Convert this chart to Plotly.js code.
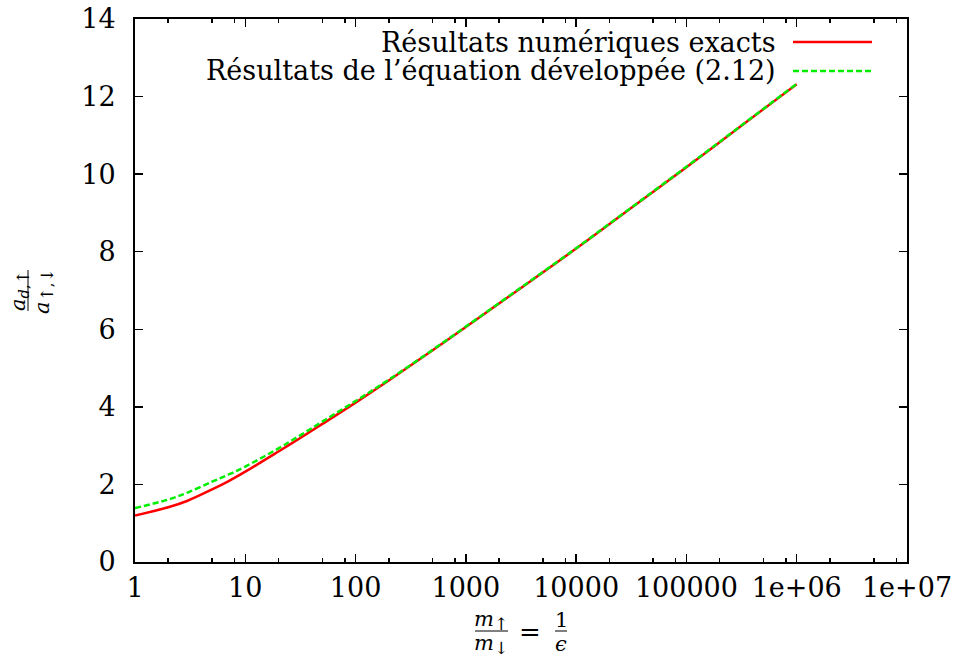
<!DOCTYPE html>
<html>
<head>
<meta charset="utf-8">
<script src="https://cdn.plot.ly/plotly-3.0.1.min.js"></script>
<style>html,body{margin:0;padding:0;background:#fff;}</style>
</head>
<body>
<div id="chart" style="width:959px;height:659px;"></div>
<script>
// Data
const ratio = [1, 2, 3, 5, 7, 10, 20, 30, 50, 100, 200, 500, 1000, 3000, 10000, 30000, 100000, 300000, 1000000];
const exactVals = [1.20, 1.41, 1.58, 1.87, 2.08, 2.33, 2.85, 3.16, 3.56, 4.11, 4.68, 5.46, 6.06, 7.02, 8.08, 9.08, 10.18, 11.20, 12.32];
const expandedVals = [1.39, 1.61, 1.79, 2.07, 2.25, 2.46, 2.93, 3.23, 3.62, 4.15, 4.70, 5.47, 6.07, 7.03, 8.09, 9.09, 10.19, 11.21, 12.33];
const seriesNames = ["Résultats numériques exacts", "Résultats de l’équation développée (2.12)"];
const xTickVals = [1, 10, 100, 1000, 10000, 100000, 1000000, 10000000];
const xTickText = ["1", "10", "100", "1000", "10000", "100000", "1e+06", "1e+07"];
const xMinorVals = [2,5,8,20,50,80,200,500,800,2000,5000,8000,20000,50000,80000,200000,500000,800000,2000000,5000000,8000000];
const yTickVals = [0, 2, 4, 6, 8, 10, 12, 14];

// layout geometry (pixels)
const W = 959, H = 659, L = 135, R = 907, T = 19, B = 562;
const px = v => (v - L) / (R - L);
const py = v => (B - v) / (B - T);

const FONT = "DejaVu Serif";

const traces = [
  {x: ratio, y: exactVals, type: "scatter", mode: "lines", name: seriesNames[0],
   line: {color: "#ff0000", width: 2.5, shape: "spline", smoothing: 1}},
  {x: ratio, y: expandedVals, type: "scatter", mode: "lines", name: seriesNames[1],
   line: {color: "#00ee00", width: 2.5, dash: "6px,3px", shape: "spline", smoothing: 1}},
  {x: [], y: [], xaxis: "x2", type: "scatter", mode: "lines", showlegend: false, hoverinfo: "skip"}
];

const axisCommon = {
  showline: true, linecolor: "#000", linewidth: 2, mirror: "ticks",
  ticks: "inside", ticklen: 8, tickwidth: 1.5, tickcolor: "#000",
  showgrid: false, zeroline: false,
  tickfont: {family: FONT, size: 27, color: "#000"}
};

const annFont = {family: FONT, size: 21, color: "#000"};
const legFont = {family: FONT, size: 27, color: "#000"};
const up = '<span style="font-size:17px">↑</span>';
const down = '<span style="font-size:17px">↓</span>';
const annotations = [
  // legend labels
  {text: seriesNames[0], x: px(778), y: py(42), xref: "paper", yref: "paper", xanchor: "right", yanchor: "middle", showarrow: false, font: legFont},
  {text: seriesNames[1], x: px(778), y: py(70), xref: "paper", yref: "paper", xanchor: "right", yanchor: "middle", showarrow: false, font: legFont},
  // y title fraction
  {text: "<i>a</i><sub><i>d</i>," + up + "</sub>", x: px(19), y: py(291), xref: "paper", yref: "paper", xanchor: "center", yanchor: "middle", textangle: -90, showarrow: false, font: annFont},
  {text: "<i>a</i><sub>" + up + "," + down + "</sub>", x: px(43), y: py(291), xref: "paper", yref: "paper", xanchor: "center", yanchor: "middle", textangle: -90, showarrow: false, font: annFont},
  // x title fraction
  {text: "<i>m</i><sub>" + up + "</sub>", x: px(491), y: py(620), xref: "paper", yref: "paper", xanchor: "center", yanchor: "middle", showarrow: false, font: annFont},
  {text: "<i>m</i><sub>" + down + "</sub>", x: px(491), y: py(644), xref: "paper", yref: "paper", xanchor: "center", yanchor: "middle", showarrow: false, font: annFont},
  {text: "=", x: px(530), y: py(632), xref: "paper", yref: "paper", xanchor: "center", yanchor: "middle", showarrow: false, font: {family: FONT, size: 26, color: "#000"}},
  {text: "1", x: px(561), y: py(620), xref: "paper", yref: "paper", xanchor: "center", yanchor: "middle", showarrow: false, font: annFont},
  {text: "<i>ϵ</i>", x: px(561), y: py(644), xref: "paper", yref: "paper", xanchor: "center", yanchor: "middle", showarrow: false, font: annFont}
];

const shapes = [
  {type: "line", xref: "paper", yref: "paper", x0: px(793), x1: px(872), y0: py(42), y1: py(42), line: {color: "#ff0000", width: 2.5}},
  {type: "line", xref: "paper", yref: "paper", x0: px(793), x1: px(872), y0: py(71), y1: py(71), line: {color: "#00ee00", width: 2.5, dash: "6px,3px"}},
  {type: "line", xref: "paper", yref: "paper", x0: px(28), x1: px(28), y0: py(270), y1: py(311), line: {color: "#000", width: 1}},
  {type: "line", xref: "paper", yref: "paper", x0: px(475), x1: px(508), y0: py(631), y1: py(631), line: {color: "#000", width: 1}},
  {type: "line", xref: "paper", yref: "paper", x0: px(555), x1: px(567), y0: py(631), y1: py(631), line: {color: "#000", width: 1}}
];

const layout = {
  width: W, height: H,
  margin: {l: L, r: W - R, t: T, b: H - B, pad: 0},
  paper_bgcolor: "#fff", plot_bgcolor: "#fff",
  showlegend: false,
  xaxis: Object.assign({}, axisCommon, {type: "log", range: [0, 7], tickmode: "array", tickvals: xTickVals, ticktext: xTickText, ticklabelstandoff: 1}),
  xaxis2: {type: "log", range: [0, 7], overlaying: "x", anchor: "y", tickmode: "array", tickvals: xMinorVals,
           ticks: "inside", ticklen: 4, tickwidth: 1.5, tickcolor: "#000", showticklabels: false,
           showline: true, linecolor: "#000", linewidth: 2, mirror: "ticks", showgrid: false, zeroline: false},
  yaxis: Object.assign({}, axisCommon, {range: [0, 14], tickmode: "array", tickvals: yTickVals, ticklabelstandoff: 12}),
  annotations: annotations,
  shapes: shapes
};

Plotly.newPlot("chart", traces, layout, {staticPlot: true, displayModeBar: false});
</script>
</body>
</html>
